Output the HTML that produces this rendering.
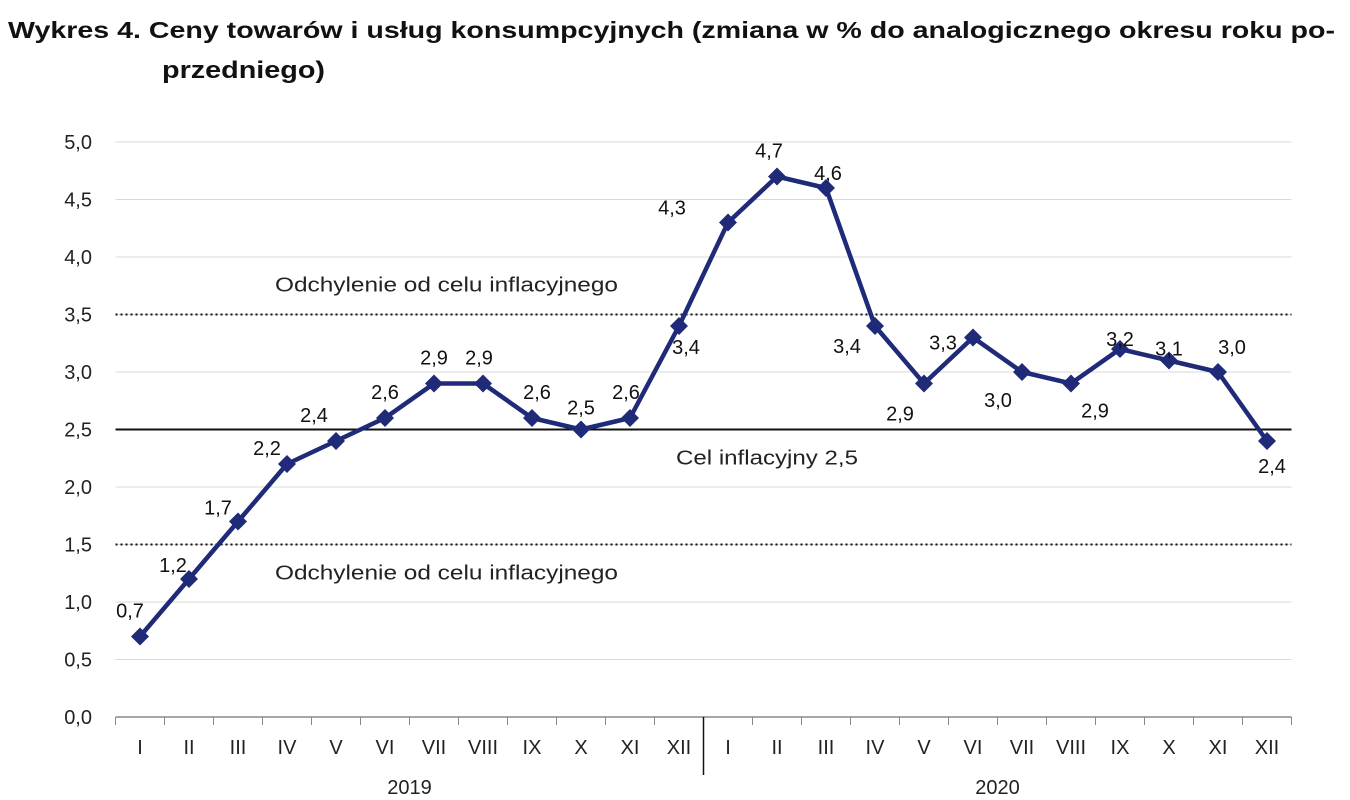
<!DOCTYPE html>
<html><head><meta charset="utf-8"><style>
html,body{margin:0;padding:0;background:#fff;}
svg{display:block;font-family:"Liberation Sans",sans-serif;}
</style></head><body>
<svg id="chart" width="1350" height="800" viewBox="0 0 1350 800">
<text x="8" y="38" font-size="23" font-weight="bold" fill="#111" textLength="1327" lengthAdjust="spacingAndGlyphs">Wykres 4. Ceny towarów i usług konsumpcyjnych (zmiana w % do analogicznego okresu roku po-</text>
<text x="162" y="78" font-size="24" font-weight="bold" fill="#111" textLength="163" lengthAdjust="spacingAndGlyphs">przedniego)</text>
<g id="grid"></g><g id="refs"></g><g id="axes"></g><g id="series"></g><g id="labels"></g>
</svg>
<script>
const categories=["I","II","III","IV","V","VI","VII","VIII","IX","X","XI","XII","I","II","III","IV","V","VI","VII","VIII","IX","X","XI","XII"];
const years=["2019","2020"];
const cpiValues=[0.7,1.2,1.7,2.2,2.4,2.6,2.9,2.9,2.6,2.5,2.6,3.4,4.3,4.7,4.6,3.4,2.9,3.3,3.0,2.9,3.2,3.1,3.0,2.4];
const yTicks=[0,0.5,1,1.5,2,2.5,3,3.5,4,4.5,5];
const targetValue=2.5;
const bandValues=[3.5,1.5];
const labelOffsets=[[-10,-26],[-16,-14],[-20,-14],[-20,-16],[-22,-26],[0,-26],[0,-26],[-4,-26],[5,-26],[0,-22],[-4,-26],[7,21],[-56,-15],[-8,-26],[2,-15],[-28,20],[-24,30],[-30,5],[-24,28],[24,27],[0,-10],[0,-12],[14,-25],[5,25]];
const NS="http://www.w3.org/2000/svg";
const x0=115.5,bw=49,yBase=717,yTop=142,vMax=5;
const xPos=i=>x0+bw*(i+0.5);
const yPos=v=>yBase-(v/vMax)*(yBase-yTop);
function mk(t,a,p){const e=document.createElementNS(NS,t);for(const k in a)e.setAttribute(k,a[k]);p.appendChild(e);return e;}
const grid=document.getElementById('grid'),refs=document.getElementById('refs'),axes=document.getElementById('axes'),ser=document.getElementById('series'),lab=document.getElementById('labels');
const xEnd=x0+bw*categories.length;
yTicks.forEach(v=>{
 const l=mk('line',{x1:x0,x2:xEnd,y1:yPos(v),y2:yPos(v),stroke:'#d9d9d9','stroke-width':1},grid);
 
 
 const t=mk('text',{x:92,y:yPos(v)+7,'font-size':20,'text-anchor':'end',fill:'#222'},axes);
 t.textContent=v.toFixed(1).replace('.',',');
 
 
});
bandValues.forEach(v=>{
 const l=mk('line',{x1:x0,x2:xEnd,y1:yPos(v),y2:yPos(v),stroke:'#111','stroke-width':2,'stroke-dasharray':'2 3'},refs);
 
 
 const t=mk('text',{x:275,y:yPos(v)+(v>targetValue?-23:35),'font-size':20,fill:'#222',textLength:343,lengthAdjust:'spacingAndGlyphs'},refs);
 t.textContent='Odchylenie od celu inflacyjnego';
 
 
});
const tl=mk('line',{x1:x0,x2:xEnd,y1:yPos(targetValue),y2:yPos(targetValue),stroke:'#111','stroke-width':2},refs);


const tt=mk('text',{x:676,y:yPos(targetValue)+35,'font-size':20,fill:'#222',textLength:182,lengthAdjust:'spacingAndGlyphs'},refs);
tt.textContent='Cel inflacyjny 2,5';


const ax=mk('line',{x1:x0,x2:xEnd,y1:yBase,y2:yBase,stroke:'#888','stroke-width':1.5},axes);


for(let i=0;i<=categories.length;i++){
 const big=(i===12);
 const tk=mk('line',{x1:x0+bw*i,x2:x0+bw*i,y1:yBase,y2:yBase+(big?58:8),stroke:big?'#111':'#888','stroke-width':big?1.5:1},axes);
 
 
}
categories.forEach((c,i)=>{
 const t=mk('text',{x:xPos(i),y:754,'font-size':20,'text-anchor':'middle',fill:'#222'},axes);
 t.textContent=c;
 
 
});
years.forEach((y,k)=>{
 const t=mk('text',{x:x0+bw*(6+12*k),y:794,'font-size':20,'text-anchor':'middle',fill:'#222'},axes);
 t.textContent=y;
 
 
});
const pts=cpiValues.map((v,i)=>xPos(i)+','+yPos(v)).join(' ');
const pl=mk('polyline',{points:pts,fill:'none',stroke:'#1f2a78','stroke-width':4.5,'stroke-linejoin':'round'},ser);


cpiValues.forEach((v,i)=>{
 const cx=xPos(i),cy=yPos(v),r=9;
 const d=mk('polygon',{points:`${cx},${cy-r} ${cx+r},${cy} ${cx},${cy+r} ${cx-r},${cy}`,fill:'#1f2a78'},ser);
 
 
 const o=labelOffsets[i]||[0,-24];
 const t=mk('text',{x:cx+o[0],y:cy+o[1]+7,'font-size':20,'text-anchor':'middle',fill:'#111'},lab);
 t.textContent=v.toFixed(1).replace('.',',');
 
 
});
</script>
</body></html>
